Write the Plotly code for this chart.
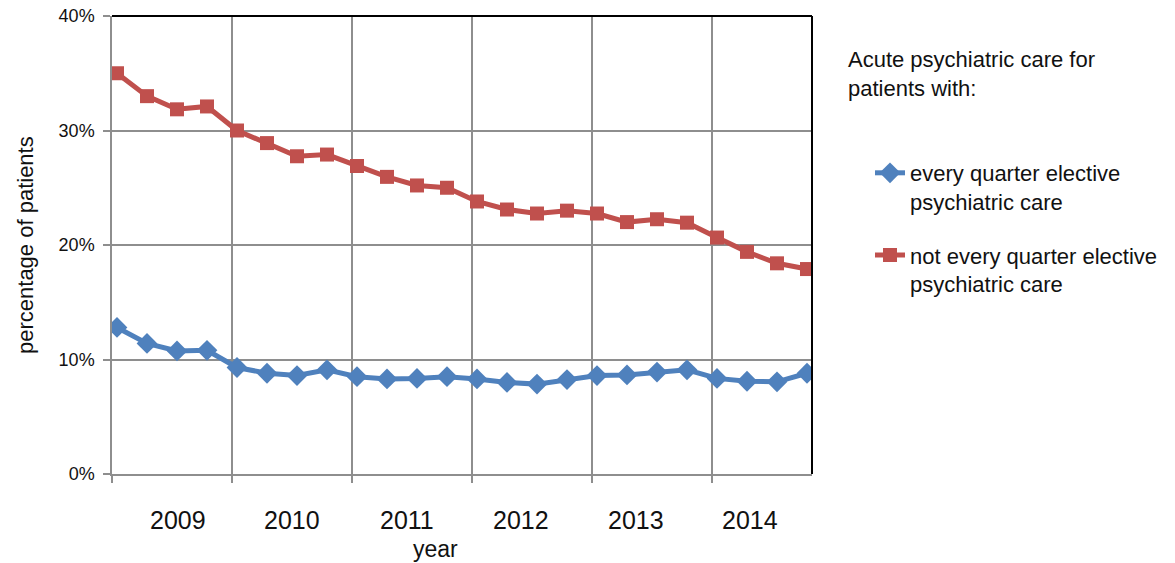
import plotly.graph_objects as go

# ---- data ----
quarters = [f"{y} Q{q}" for y in range(2009, 2015) for q in range(1, 5)]
years = ["2009", "2010", "2011", "2012", "2013", "2014"]
every_quarter = [12.8, 11.4, 10.75, 10.8, 9.3, 8.8, 8.6, 9.1, 8.5, 8.3, 8.35, 8.5,
                 8.3, 8.0, 7.85, 8.25, 8.6, 8.65, 8.9, 9.1, 8.35, 8.1, 8.05, 8.8]
not_every_quarter = [35.0, 33.0, 31.85, 32.1, 30.0, 28.9, 27.75, 27.9, 26.9, 25.95, 25.2, 25.0,
                     23.8, 23.1, 22.75, 23.0, 22.75, 22.0, 22.25, 21.95, 20.65, 19.4, 18.4, 17.9]
y_ticks = [0, 10, 20, 30, 40]
y_tick_labels = ["0%", "10%", "20%", "30%", "40%"]

# month-based positions (Excel date axis, base unit months)
xpos = [3 * i + 0.5 for i in range(len(quarters))]
BLUE = "#4F81BD"
RED = "#C0504D"
GRID = "#8E8E8E"
FONT = "Liberation Sans, Arial, sans-serif"

fig = go.Figure()
fig.add_trace(go.Scatter(
    x=xpos, y=every_quarter, mode="lines+markers", name="every quarter elective<br>psychiatric care",
    line=dict(color=BLUE, width=5), marker=dict(symbol="diamond", size=16, color=BLUE),
    legendgroup="a", text=quarters))
fig.add_trace(go.Scatter(
    x=xpos, y=not_every_quarter, mode="lines+markers", name="not every quarter elective<br>psychiatric care",
    line=dict(color=RED, width=5), marker=dict(symbol="square", size=14, color=RED),
    legendgroup="b", text=quarters))

L, R, T, B = 112, 363, 16, 89
W, H = 1175, 563
pw = W - L - R
ph = H - T - B

annotations = []
for j, yr in enumerate(years):
    annotations.append(dict(x=6.6 + 11.44 * j, y=-(520 - (H - B)) / ph, xref="x", yref="paper",
                            text=yr, showarrow=False, font=dict(size=25, color="#111", family=FONT),
                            xanchor="center", yanchor="middle"))
annotations.append(dict(x=(435 - L) / pw, y=-(549 - (H - B)) / ph, xref="paper", yref="paper",
                        text="year", showarrow=False, font=dict(size=23, color="#111", family=FONT),
                        xanchor="center", yanchor="middle"))
annotations.append(dict(x=(25 - L) / pw, y=0.5, xref="paper", yref="paper", textangle=-90,
                        text="percentage of patients", showarrow=False,
                        font=dict(size=22, color="#111", family=FONT),
                        xanchor="center", yanchor="middle"))
annotations.append(dict(x=(846 - L) / pw, y=((H - B) - 45) / ph, xref="paper", yref="paper",
                        text="Acute psychiatric care for<br>patients with:", showarrow=False, align="left",
                        font=dict(size=22, color="#111", family=FONT),
                        xanchor="left", yanchor="top"))

fig.update_layout(
    width=W, height=H,
    margin=dict(l=L, r=R, t=T, b=B, autoexpand=False),
    paper_bgcolor="white", plot_bgcolor="white",
    font=dict(family=FONT, color="#111"),
    annotations=annotations,
    legend=dict(x=(870 - L) / pw, y=((H - B) - 152) / ph, xanchor="left", yanchor="top",
                font=dict(size=22, color="#111", family=FONT), valign="top",
                traceorder="grouped", tracegroupgap=22, bgcolor="rgba(0,0,0,0)"),
    shapes=[
        dict(type="line", xref="paper", yref="paper", x0=0, x1=1, y0=1, y1=1,
             line=dict(color="black", width=2)),
        dict(type="line", xref="paper", yref="paper", x0=1, x1=1, y0=0, y1=1,
             line=dict(color="black", width=2)),
    ],
)
fig.update_xaxes(range=[0, 70], tickvals=[0, 12, 24, 36, 48, 60], showticklabels=False,
                 showgrid=True, gridcolor=GRID, gridwidth=1.5, ticks="outside", ticklen=7,
                 tickcolor=GRID, tickwidth=1.5, showline=True, linecolor=GRID, linewidth=1.5,
                 zeroline=False, fixedrange=True, automargin=False)
fig.update_yaxes(range=[0, 40], tickvals=y_ticks, ticktext=y_tick_labels, showgrid=True, gridcolor=GRID,
                 gridwidth=1.5, ticks="outside", ticklen=7, tickcolor=GRID, tickwidth=1.5,
                 showline=True, linecolor=GRID, linewidth=1.5, zeroline=False, ticklabelstandoff=5,
                 tickfont=dict(size=18, color="#111", family=FONT), fixedrange=True, automargin=False)

fig.write_html("out.html")
